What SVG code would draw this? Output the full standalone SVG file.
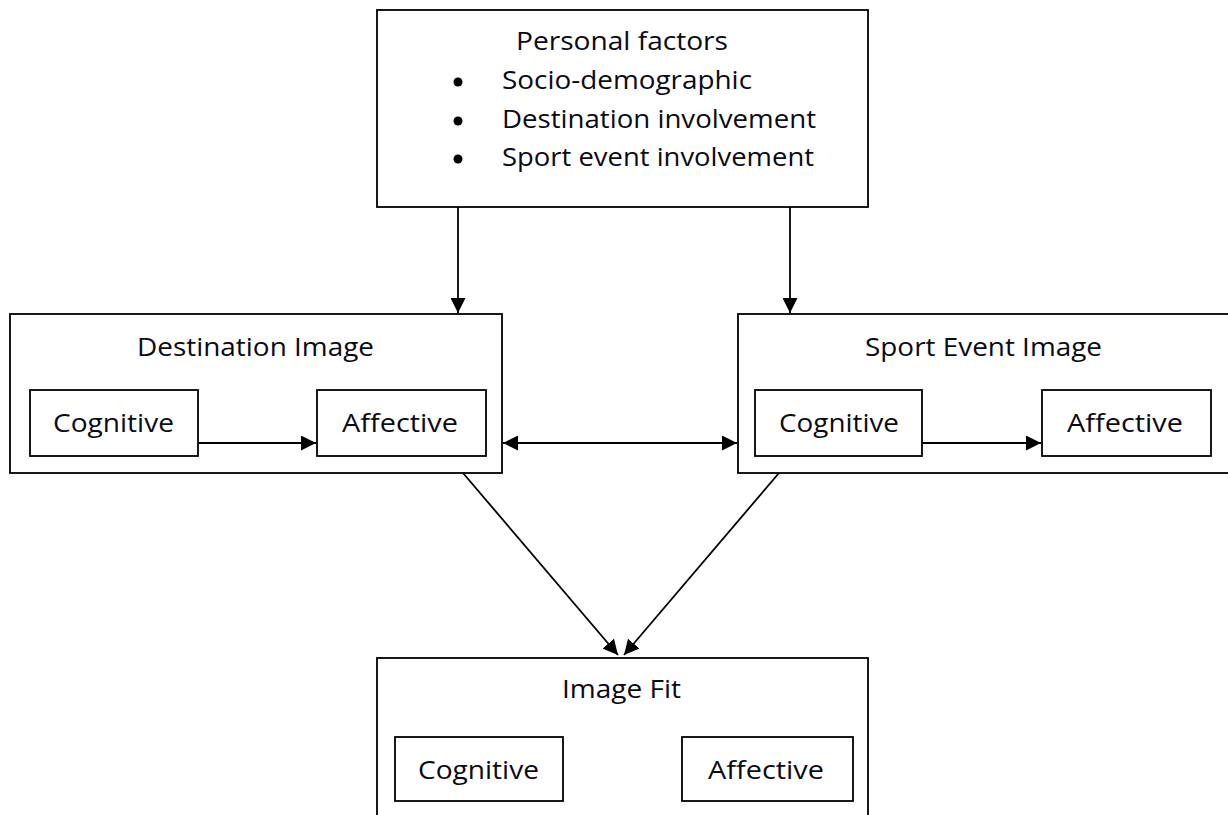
<svg xmlns="http://www.w3.org/2000/svg" width="1228" height="815" viewBox="0 0 1228 815">
<style>
.box{fill:#fff;stroke:#000;stroke-width:1.8}
.t{font-family:"Open Sans","Liberation Sans",sans-serif;font-size:25px;fill:#0a0a14}
.c{stroke:#000;stroke-width:1.8;fill:none}
</style>
<defs>
<marker id="ah" viewBox="0 0 10 10" refX="10" refY="5" markerWidth="15" markerHeight="15" markerUnits="userSpaceOnUse" orient="auto-start-reverse">
<path d="M0,0 L10,5 L0,10 Z" fill="#000"/>
</marker>
</defs>
<rect width="1228" height="815" fill="#fff"/>
<g id="personal">
<rect class="box" x="377" y="10" width="491" height="197"/>
<text class="t" x="516" y="50" textLength="212" lengthAdjust="spacingAndGlyphs">Personal factors</text>
<circle cx="458" cy="82" r="4.5" fill="#000"/>
<circle cx="458" cy="121" r="4.5" fill="#000"/>
<circle cx="458" cy="159" r="4.5" fill="#000"/>
<text class="t" x="502" y="89" textLength="250" lengthAdjust="spacingAndGlyphs">Socio-demographic</text>
<text class="t" x="502" y="128" textLength="314" lengthAdjust="spacingAndGlyphs">Destination involvement</text>
<text class="t" x="502" y="166" textLength="312" lengthAdjust="spacingAndGlyphs">Sport event involvement</text>
</g>
<g id="destination">
<rect class="box" x="10" y="314" width="492" height="159"/>
<text class="t" x="137" y="356" textLength="237" lengthAdjust="spacingAndGlyphs">Destination Image</text>
<rect class="box" x="30" y="390" width="168" height="66"/>
<text class="t" x="53" y="432" textLength="121" lengthAdjust="spacingAndGlyphs">Cognitive</text>
<rect class="box" x="317" y="390" width="169" height="66"/>
<text class="t" x="342" y="432" textLength="116" lengthAdjust="spacingAndGlyphs">Affective</text>
</g>
<g id="sport">
<rect class="box" x="738" y="314" width="500" height="159"/>
<text class="t" x="865" y="356" textLength="237" lengthAdjust="spacingAndGlyphs">Sport Event Image</text>
<rect class="box" x="755" y="390" width="167" height="66"/>
<text class="t" x="779" y="432" textLength="120" lengthAdjust="spacingAndGlyphs">Cognitive</text>
<rect class="box" x="1042" y="390" width="169" height="66"/>
<text class="t" x="1067" y="432" textLength="116" lengthAdjust="spacingAndGlyphs">Affective</text>
</g>
<g id="imagefit">
<rect class="box" x="377" y="658" width="491" height="170"/>
<text class="t" x="562" y="698" textLength="119" lengthAdjust="spacingAndGlyphs">Image Fit</text>
<rect class="box" x="395" y="737" width="168" height="64"/>
<text class="t" x="418" y="779" textLength="121" lengthAdjust="spacingAndGlyphs">Cognitive</text>
<rect class="box" x="682" y="737" width="171" height="64"/>
<text class="t" x="708" y="779" textLength="116" lengthAdjust="spacingAndGlyphs">Affective</text>
</g>
<g id="connectors">
<line class="c" x1="458" y1="207" x2="458" y2="313" marker-end="url(#ah)"/>
<line class="c" x1="790" y1="207" x2="790" y2="313" marker-end="url(#ah)"/>
<line class="c" x1="503" y1="443" x2="737" y2="443" marker-start="url(#ah)" marker-end="url(#ah)"/>
<line class="c" x1="198" y1="443" x2="316" y2="443" marker-end="url(#ah)"/>
<line class="c" x1="922" y1="443" x2="1041" y2="443" marker-end="url(#ah)"/>
<line class="c" x1="463" y1="473" x2="618" y2="655" marker-end="url(#ah)"/>
<line class="c" x1="779" y1="473" x2="624" y2="655" marker-end="url(#ah)"/>
</g>
</svg>
